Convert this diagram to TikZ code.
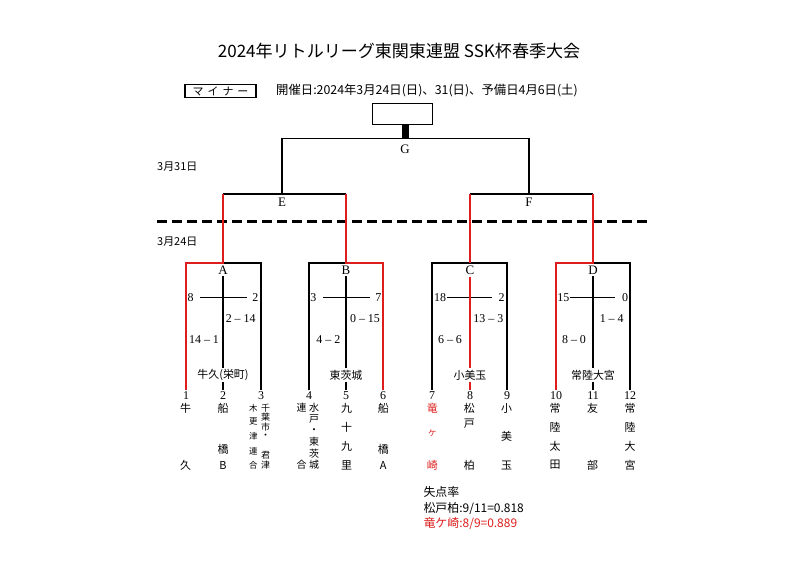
\documentclass[tikz,border=0pt]{standalone}
\usepackage{fontspec}
\setmainfont{Liberation Serif}
\newfontfamily\jp{Noto Sans CJK JP}
\definecolor{myred}{RGB}{222,30,30}
\newcommand\teamcol[4]{%
  \foreach \ch/\yy [count=\k] in {#4} {\node[#3] (#1-\k) at (#2,\yy) {\ch};}}
\begin{document}
\begin{tikzpicture}[x=1bp,y=-1bp,
  bk/.style={line width=1.2bp, black},
  rd/.style={line width=2.8bp, myred, line join=miter},
  lt/.style={font=\fontsize{13}{13}\selectfont, inner sep=1.5bp},
  num/.style={font=\fontsize{12}{12}\selectfont, inner sep=1.5bp},
  sc/.style={font=\fontsize{12}{12}\selectfont, inner sep=0bp},
  ven/.style={font=\jp\fontsize{11}{11}\selectfont, inner sep=1.5bp},
  tn/.style={font=\jp\fontsize{11}{11}\selectfont, inner sep=0bp},
  tnm/.style={font=\jp\fontsize{10}{10}\selectfont, inner sep=0bp},
  tnq/.style={font=\jp\fontsize{9}{9}\selectfont, inner sep=0bp},
  tns/.style={font=\jp\fontsize{8.5}{8.5}\selectfont, inner sep=0bp},
  note/.style={font=\jp\fontsize{12}{12}\selectfont, inner sep=0bp, anchor=west},
  date/.style={font=\jp\fontsize{11}{11}\selectfont, inner sep=0bp, anchor=west}]
\useasboundingbox[fill=white] (0,0) rectangle (800,565);

% header
\node[font=\jp\fontsize{17.1}{17.1}\selectfont, inner sep=0bp] (title) at (399,51) {2024年リトルリーグ東関東連盟 SSK杯春季大会};
\node[draw, line width=1.2bp, minimum width=71bp, minimum height=13.4bp, inner sep=0bp,
      font=\jp\fontsize{11}{11}\selectfont] (div) at (220.5,91) {マ\hspace{4bp}イ\hspace{4bp}ナ\hspace{4bp}ー};
\node[font=\jp\fontsize{12.4}{12.4}\selectfont, inner sep=0bp, anchor=west] (info) at (276,90) {開催日:2024年3月24日(日)、31(日)、予備日4月6日(土)};

% final
\node[draw, line width=1.2bp, minimum width=59.6bp, minimum height=21bp, inner sep=0bp] (win) at (402.5,113.8) {};
\coordinate (Gm) at (405,138.3);
\draw[line width=7bp] (Gm |- win.south) -- (Gm);
\coordinate (Ga) at (282,138.3);
\coordinate (Gb) at (529,138.3);
\node[lt] (G) at (405,149.5) {G};
\draw[bk] (Ga) -- (Gb);

% semis
\coordinate (Ea) at (223,194);
\coordinate (Eb) at (346,194);
\coordinate (Fa) at (470,194);
\coordinate (Fb) at (593,194);
\node[lt] (E) at (282,202) {E};
\node[lt] (F) at (529,202) {F};
\draw[bk] (Ga) -- (Ga |- Ea);
\draw[bk] (Gb) -- (Gb |- Fa);
\draw[bk] (Ea) -- (Eb);
\draw[bk] (Fa) -- (Fb);

% dates and dashed divider
\node[date] (d31) at (157,167) {3月31日};
\node[date] (d24) at (157,242) {3月24日};
\coordinate (dl) at (157,221.7);
\coordinate (dr) at (648,221.7);
\draw[line width=3.2bp, dash pattern=on 10bp off 5bp] (dl) -- (dr);

% team numbers
\foreach \i/\x in {1/186,2/223,3/261,4/309,5/346,6/383,7/432,8/470,9/507,10/556,11/593,12/630}
  \node[num] (n\i) at (\x,396) {\i};

% group corners
\coordinate (A1) at (186,263); \coordinate (A2) at (223,263); \coordinate (A3) at (261,263);
\coordinate (B1) at (309,263); \coordinate (B2) at (346,263); \coordinate (B3) at (383,263);
\coordinate (C1) at (432,263); \coordinate (C2) at (470,263); \coordinate (C3) at (507,263);
\coordinate (D1) at (556,263); \coordinate (D2) at (593,263); \coordinate (D3) at (630,263);

% group labels and venues
\node[lt] (A) at (223,270.5) {A};
\node[lt] (B) at (346,270.5) {B};
\node[lt] (C) at (470,270.5) {C};
\node[lt] (D) at (593,270.5) {D};
\node[ven] (vA) at (223,375) {牛久(栄町)};
\node[ven] (vB) at (346,375) {東茨城};
\node[ven] (vC) at (470,375) {小美玉};
\node[ven] (vD) at (593,375) {常陸大宮};

% black bracket lines
\draw[bk] (A1) -- (A3) -- (n3.north);
\draw[bk] (B1 |- n4.north) -- (B1) -- (B3);
\draw[bk] (C1 |- n7.north) -- (C1) -- (C3) -- (n9.north);
\draw[bk] (D1) -- (D3) -- (n12.north);
\draw[bk] (A.south) -- (vA.north);
\draw[bk] (vA.south) -- (n2.north);
\draw[bk] (B.south) -- (vB.north);
\draw[bk] (vB.south) -- (n5.north);
\draw[bk] (D.south) -- (vD.north);
\draw[bk] (vD.south) -- (n11.north);

% crosses
\coordinate (xA1) at (200,297.7); \coordinate (xA2) at (246.7,297.7);
\coordinate (xB1) at (323,297.7); \coordinate (xB2) at (370,297.7);
\coordinate (xC1) at (446.7,297.7); \coordinate (xC2) at (491.7,297.7);
\coordinate (xD1) at (570,297.7); \coordinate (xD2) at (615,297.7);
\draw[bk] (xA1) -- (xA2);
\draw[bk] (xB1) -- (xB2);
\draw[bk] (xC1) -- (xC2);
\draw[bk] (xD1) -- (xD2);

% red winning paths
\draw[rd] (Ea) -- (A2) -- (A1) -- (n1.north);
\draw[rd] (Eb) -- (B2) -- (B3) -- (n6.north);
\draw[rd] (Fa) -- (C2);
\draw[rd] (C.south) -- (vC.north);
\draw[rd] (vC.south) -- (n8.north);
\draw[rd] (Fb) -- (D2) -- (D1) -- (n10.north);

% scores
\node[sc] (sA1) at (190.7,297.7) {8};
\node[sc] (sA2) at (255.3,297.7) {2};
\node[sc] (sA3) at (240.7,319) {2 -- 14};
\node[sc] (sA4) at (204,340) {14 -- 1};
\node[sc] (sB1) at (313.3,297.7) {3};
\node[sc] (sB2) at (378.3,297.7) {7};
\node[sc] (sB3) at (365,319) {0 -- 15};
\node[sc] (sB4) at (328.3,340) {4 -- 2};
\node[sc] (sC1) at (440,297.7) {18};
\node[sc] (sC2) at (501.7,297.7) {2};
\node[sc] (sC3) at (488.3,319) {13 -- 3};
\node[sc] (sC4) at (450,340) {6 -- 6};
\node[sc] (sD1) at (563.3,297.7) {15};
\node[sc] (sD2) at (625,297.7) {0};
\node[sc] (sD3) at (611.7,319) {1 -- 4};
\node[sc] (sD4) at (574,340) {8 -- 0};

% team names (vertical)
\teamcol{t1}{185.5}{tn}{牛/408,久/465}
\teamcol{t2}{223}{tn}{船/408,橋/449,B/465}
\teamcol{t3a}{265.7}{tnq}{千/408,葉/417.5,市/427,・/436.5,君/455,津/465}
\teamcol{t3b}{253.3}{tns}{木/408,更/422,津/436,連/451,合/465}
\teamcol{t4a}{314}{tnm}{水/408,戸/419.5,・/431,東/442,茨/453.5,城/465}
\teamcol{t4b}{301.7}{tnm}{連/408,合/465}
\teamcol{t5}{346.7}{tn}{九/408,十/427,九/446,里/465}
\teamcol{t6}{383.3}{tn}{船/408,橋/449,A/465}
\teamcol{t7}{432.3}{tn,text=myred}{竜/408,崎/465}
\node[tns,text=myred] (t7-k) at (432.3,433) {ケ};
\teamcol{t8}{469.3}{tn}{松/408,戸/424,柏/465}
\teamcol{t9}{506.7}{tn}{小/408,美/436.5,玉/465}
\teamcol{t10}{555}{tn}{常/408,陸/427,太/446,田/465}
\teamcol{t11}{592.7}{tn}{友/408,部/465}
\teamcol{t12}{630}{tn}{常/408,陸/427,大/446,宮/465}

% notes
\node[note] (nt1) at (423.3,492) {失点率};
\node[note] (nt2) at (423.3,508.3) {松戸柏:9/11=0.818};
\node[note, text=myred] (nt3) at (423.3,523.5) {竜ケ崎:8/9=0.889};
\end{tikzpicture}
\end{document}
